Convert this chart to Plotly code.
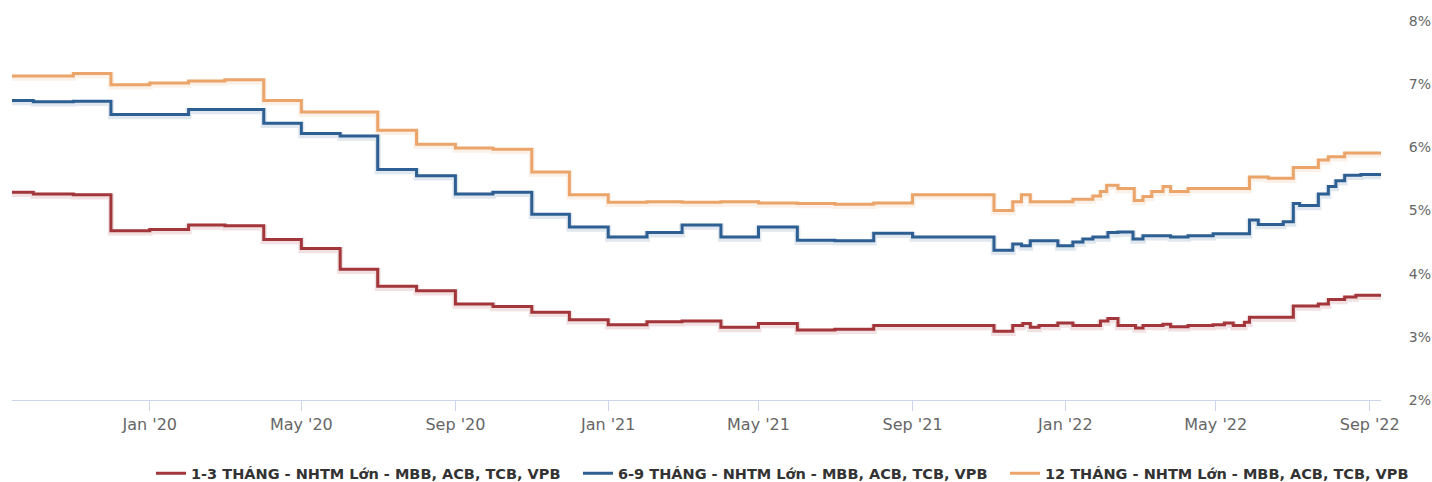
import plotly.graph_objects as go

# Deposit rate series (%), step changes by date
dates_13 = ["2019-09-13", "2019-09-30", "2019-11-01", "2019-12-01", "2020-01-01", "2020-02-01",
            "2020-03-01", "2020-04-01", "2020-05-01", "2020-06-01", "2020-07-01", "2020-08-01",
            "2020-09-01", "2020-10-01", "2020-11-01", "2020-12-01", "2021-01-01", "2021-02-01",
            "2021-03-01", "2021-04-01", "2021-05-01", "2021-06-01", "2021-07-01", "2021-08-01",
            "2021-11-05", "2021-11-20", "2021-11-28", "2021-12-04", "2021-12-11", "2021-12-26",
            "2022-01-07", "2022-01-29", "2022-02-04", "2022-02-12", "2022-02-26", "2022-03-04",
            "2022-03-20", "2022-03-26", "2022-04-09", "2022-04-29", "2022-05-08", "2022-05-15",
            "2022-05-24", "2022-05-28", "2022-07-02", "2022-07-22", "2022-07-30", "2022-08-12",
            "2022-08-21", "2022-09-10"]
rate_13 = [5.29, 5.26, 5.25, 4.68, 4.70, 4.77,
           4.76, 4.54, 4.40, 4.07, 3.80, 3.73,
           3.52, 3.48, 3.39, 3.27, 3.19, 3.24,
           3.25, 3.15, 3.21, 3.11, 3.12, 3.18,
           3.09, 3.18, 3.21, 3.15, 3.18, 3.22,
           3.18, 3.25, 3.29, 3.18, 3.14, 3.18,
           3.20, 3.16, 3.18, 3.19, 3.22, 3.18,
           3.23, 3.31, 3.49, 3.52, 3.59, 3.63,
           3.66, 3.66]

dates_69 = ["2019-09-13", "2019-09-30", "2019-11-01", "2019-12-01", "2020-02-01", "2020-04-01",
            "2020-05-01", "2020-06-01", "2020-07-01", "2020-08-01", "2020-09-01", "2020-10-01",
            "2020-11-01", "2020-12-01", "2021-01-01", "2021-02-01", "2021-03-01", "2021-04-01",
            "2021-05-01", "2021-06-01", "2021-07-01", "2021-08-01", "2021-09-01", "2021-11-05",
            "2021-11-20", "2021-11-27", "2021-12-04", "2021-12-26", "2022-01-07", "2022-01-15",
            "2022-01-23", "2022-02-04", "2022-02-12", "2022-02-24", "2022-03-04", "2022-03-26",
            "2022-04-09", "2022-04-29", "2022-05-28", "2022-06-04", "2022-06-24", "2022-07-02",
            "2022-07-07", "2022-07-22", "2022-07-30", "2022-08-05", "2022-08-12", "2022-08-25",
            "2022-09-10"]
rate_69 = [6.74, 6.72, 6.73, 6.52, 6.60, 6.38,
           6.22, 6.18, 5.65, 5.55, 5.26, 5.29,
           4.94, 4.74, 4.58, 4.65, 4.77, 4.58,
           4.74, 4.53, 4.52, 4.64, 4.58, 4.37,
           4.47, 4.44, 4.52, 4.44, 4.50, 4.55,
           4.58, 4.65, 4.66, 4.55, 4.60, 4.58,
           4.60, 4.63, 4.85, 4.78, 4.82, 5.11,
           5.08, 5.26, 5.38, 5.47, 5.56, 5.57,
           5.58]

dates_12 = ["2019-09-13", "2019-11-01", "2019-12-01", "2020-01-01", "2020-02-01", "2020-03-01",
            "2020-04-01", "2020-05-01", "2020-07-01", "2020-08-01", "2020-09-01", "2020-10-01",
            "2020-11-01", "2020-12-01", "2021-01-01", "2021-02-01", "2021-03-01", "2021-04-01",
            "2021-05-01", "2021-06-01", "2021-07-01", "2021-08-01", "2021-09-01", "2021-11-05",
            "2021-11-20", "2021-11-27", "2021-12-04", "2022-01-07", "2022-01-23", "2022-01-29",
            "2022-02-03", "2022-02-12", "2022-02-25", "2022-03-04", "2022-03-11", "2022-03-20",
            "2022-03-26", "2022-04-09", "2022-05-28", "2022-06-12", "2022-07-02", "2022-07-22",
            "2022-07-30", "2022-08-12", "2022-09-10"]
rate_12 = [7.13, 7.17, 6.99, 7.02, 7.05, 7.07,
           6.74, 6.56, 6.27, 6.05, 5.99, 5.97,
           5.61, 5.25, 5.13, 5.14, 5.13, 5.14,
           5.12, 5.11, 5.10, 5.12, 5.25, 5.00,
           5.14, 5.25, 5.14, 5.18, 5.23, 5.30,
           5.40, 5.35, 5.16, 5.22, 5.30, 5.38,
           5.30, 5.35, 5.53, 5.51, 5.68, 5.80,
           5.85, 5.91, 5.92]

series_names = ["1-3 THÁNG - NHTM Lớn - MBB, ACB, TCB, VPB",
                "6-9 THÁNG - NHTM Lớn - MBB, ACB, TCB, VPB",
                "12 THÁNG - NHTM Lớn - MBB, ACB, TCB, VPB"]
series_colors = ["#a3363b", "#2d5f93", "#eba469"]

tick_dates = ["2020-01-01", "2020-05-01", "2020-09-01", "2021-01-01", "2021-05-01",
              "2021-09-01", "2022-01-01", "2022-05-01", "2022-09-01"]
tick_labels = ["Jan '20", "May '20", "Sep '20", "Jan '21", "May '21",
               "Sep '21", "Jan '22", "May '22", "Sep '22"]
y_ticks = [2, 3, 4, 5, 6, 7, 8]
y_tick_labels = ["2%", "3%", "4%", "5%", "6%", "7%", "8%"]

x_range = ["2019-09-13", "2022-09-10"]
y_range = [2, 8]
shadow_shift = 0.028  # vertical drop of the soft shadow, in % units

FONT = "'DejaVu Sans', Verdana, sans-serif"

fig = go.Figure()

series = [(dates_13, rate_13), (dates_69, rate_69), (dates_12, rate_12)]

# soft shadows under each line, drawn on a slightly shifted overlay axis
for (d, v), c in zip(series, series_colors):
    fig.add_trace(go.Scatter(x=d, y=v, mode="lines", line=dict(color=c, width=6, shape="hv"),
                             opacity=0.14, yaxis="y2", showlegend=False, hoverinfo="skip"))

for (d, v), name, c in zip(series, series_names, series_colors):
    fig.add_trace(go.Scatter(x=d, y=v, mode="lines", name=name,
                             line=dict(color=c, width=3, shape="hv")))

fig.update_layout(
    width=1432, height=482,
    margin=dict(l=12, r=51, t=21, b=82),
    paper_bgcolor="white", plot_bgcolor="white",
    font=dict(family=FONT, color="#666666"),
    showlegend=True,
    legend=dict(orientation="h", xref="paper", yref="container",
                x=0.1081, xanchor="left", y=0.018, yanchor="middle",
                font=dict(family=FONT, size=14.5, color="#333333", weight="bold"),
                itemwidth=30, entrywidth=382, entrywidthmode="pixels",
                tracegroupgap=0, traceorder="normal"),
    xaxis=dict(type="date", range=x_range, tickvals=tick_dates, ticktext=tick_labels,
               showgrid=False, zeroline=False, showline=True, linecolor="#ccd6eb", linewidth=1,
               ticks="outside", ticklen=10, tickcolor="#ccd6eb", automargin=False,
               tickfont=dict(family=FONT, size=16, color="#666666")),
    yaxis=dict(range=y_range, tickvals=y_ticks, ticktext=y_tick_labels, side="right",
               showgrid=False, zeroline=False, showline=False, automargin=False,
               ticks="outside", ticklen=24, tickcolor="rgba(0,0,0,0)",
               tickfont=dict(family=FONT, size=14, color="#666666")),
    yaxis2=dict(range=[y_range[0] + shadow_shift, y_range[1] + shadow_shift],
                overlaying="y", visible=False),
)

fig.write_html("out.html")
